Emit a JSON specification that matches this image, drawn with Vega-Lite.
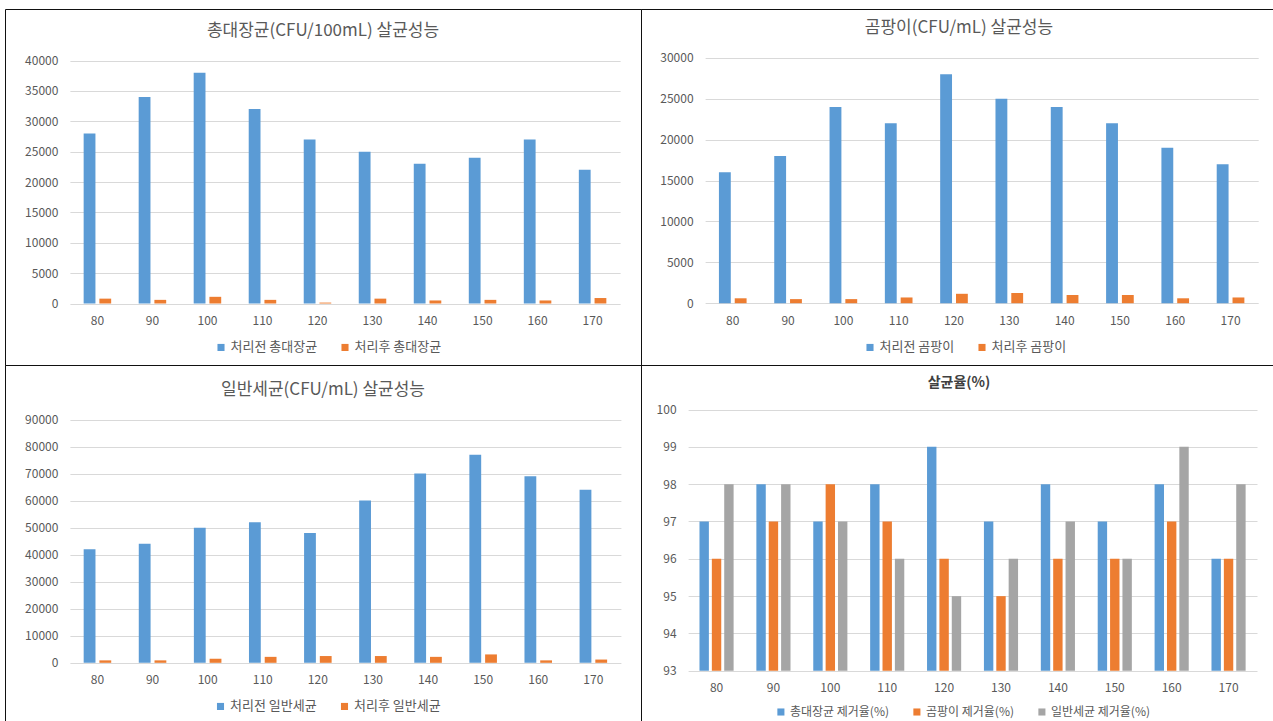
{
  "$schema": "https://vega.github.io/schema/vega-lite/v6.json",
  "padding": {"left": 4, "top": 8, "right": 0, "bottom": 0},
  "background": "white",
  "spacing": 0,
  "bounds": "flush",
  "columns": 2,
  "datasets": {
    "coliform": [
      {"t": 80, "series": "처리전 총대장균", "value": 28000},
      {"t": 90, "series": "처리전 총대장균", "value": 34000},
      {"t": 100, "series": "처리전 총대장균", "value": 38000},
      {"t": 110, "series": "처리전 총대장균", "value": 32000},
      {"t": 120, "series": "처리전 총대장균", "value": 27000},
      {"t": 130, "series": "처리전 총대장균", "value": 25000},
      {"t": 140, "series": "처리전 총대장균", "value": 23000},
      {"t": 150, "series": "처리전 총대장균", "value": 24000},
      {"t": 160, "series": "처리전 총대장균", "value": 27000},
      {"t": 170, "series": "처리전 총대장균", "value": 22000},
      {"t": 80, "series": "처리후 총대장균", "value": 800},
      {"t": 90, "series": "처리후 총대장균", "value": 600},
      {"t": 100, "series": "처리후 총대장균", "value": 1100},
      {"t": 110, "series": "처리후 총대장균", "value": 600},
      {"t": 120, "series": "처리후 총대장균", "value": 150},
      {"t": 130, "series": "처리후 총대장균", "value": 800},
      {"t": 140, "series": "처리후 총대장균", "value": 500},
      {"t": 150, "series": "처리후 총대장균", "value": 600},
      {"t": 160, "series": "처리후 총대장균", "value": 500},
      {"t": 170, "series": "처리후 총대장균", "value": 900}
    ],
    "mold": [
      {"t": 80, "series": "처리전 곰팡이", "value": 16000},
      {"t": 90, "series": "처리전 곰팡이", "value": 18000},
      {"t": 100, "series": "처리전 곰팡이", "value": 24000},
      {"t": 110, "series": "처리전 곰팡이", "value": 22000},
      {"t": 120, "series": "처리전 곰팡이", "value": 28000},
      {"t": 130, "series": "처리전 곰팡이", "value": 25000},
      {"t": 140, "series": "처리전 곰팡이", "value": 24000},
      {"t": 150, "series": "처리전 곰팡이", "value": 22000},
      {"t": 160, "series": "처리전 곰팡이", "value": 19000},
      {"t": 170, "series": "처리전 곰팡이", "value": 17000},
      {"t": 80, "series": "처리후 곰팡이", "value": 600},
      {"t": 90, "series": "처리후 곰팡이", "value": 500},
      {"t": 100, "series": "처리후 곰팡이", "value": 500},
      {"t": 110, "series": "처리후 곰팡이", "value": 700},
      {"t": 120, "series": "처리후 곰팡이", "value": 1150},
      {"t": 130, "series": "처리후 곰팡이", "value": 1250},
      {"t": 140, "series": "처리후 곰팡이", "value": 1000},
      {"t": 150, "series": "처리후 곰팡이", "value": 1000},
      {"t": 160, "series": "처리후 곰팡이", "value": 600},
      {"t": 170, "series": "처리후 곰팡이", "value": 700}
    ],
    "bacteria": [
      {"t": 80, "series": "처리전 일반세균", "value": 42000},
      {"t": 90, "series": "처리전 일반세균", "value": 44000},
      {"t": 100, "series": "처리전 일반세균", "value": 50000},
      {"t": 110, "series": "처리전 일반세균", "value": 52000},
      {"t": 120, "series": "처리전 일반세균", "value": 48000},
      {"t": 130, "series": "처리전 일반세균", "value": 60000},
      {"t": 140, "series": "처리전 일반세균", "value": 70000},
      {"t": 150, "series": "처리전 일반세균", "value": 77000},
      {"t": 160, "series": "처리전 일반세균", "value": 69000},
      {"t": 170, "series": "처리전 일반세균", "value": 64000},
      {"t": 80, "series": "처리후 일반세균", "value": 900},
      {"t": 90, "series": "처리후 일반세균", "value": 900},
      {"t": 100, "series": "처리후 일반세균", "value": 1500},
      {"t": 110, "series": "처리후 일반세균", "value": 2200},
      {"t": 120, "series": "처리후 일반세균", "value": 2500},
      {"t": 130, "series": "처리후 일반세균", "value": 2500},
      {"t": 140, "series": "처리후 일반세균", "value": 2200},
      {"t": 150, "series": "처리후 일반세균", "value": 3100},
      {"t": 160, "series": "처리후 일반세균", "value": 900},
      {"t": 170, "series": "처리후 일반세균", "value": 1200}
    ],
    "rate": [
      {"t": 80, "series": "총대장균 제거율(%)", "value": 97},
      {"t": 90, "series": "총대장균 제거율(%)", "value": 98},
      {"t": 100, "series": "총대장균 제거율(%)", "value": 97},
      {"t": 110, "series": "총대장균 제거율(%)", "value": 98},
      {"t": 120, "series": "총대장균 제거율(%)", "value": 99},
      {"t": 130, "series": "총대장균 제거율(%)", "value": 97},
      {"t": 140, "series": "총대장균 제거율(%)", "value": 98},
      {"t": 150, "series": "총대장균 제거율(%)", "value": 97},
      {"t": 160, "series": "총대장균 제거율(%)", "value": 98},
      {"t": 170, "series": "총대장균 제거율(%)", "value": 96},
      {"t": 80, "series": "곰팡이 제거율(%)", "value": 96},
      {"t": 90, "series": "곰팡이 제거율(%)", "value": 97},
      {"t": 100, "series": "곰팡이 제거율(%)", "value": 98},
      {"t": 110, "series": "곰팡이 제거율(%)", "value": 97},
      {"t": 120, "series": "곰팡이 제거율(%)", "value": 96},
      {"t": 130, "series": "곰팡이 제거율(%)", "value": 95},
      {"t": 140, "series": "곰팡이 제거율(%)", "value": 96},
      {"t": 150, "series": "곰팡이 제거율(%)", "value": 96},
      {"t": 160, "series": "곰팡이 제거율(%)", "value": 97},
      {"t": 170, "series": "곰팡이 제거율(%)", "value": 96},
      {"t": 80, "series": "일반세균 제거율(%)", "value": 98},
      {"t": 90, "series": "일반세균 제거율(%)", "value": 98},
      {"t": 100, "series": "일반세균 제거율(%)", "value": 97},
      {"t": 110, "series": "일반세균 제거율(%)", "value": 96},
      {"t": 120, "series": "일반세균 제거율(%)", "value": 95},
      {"t": 130, "series": "일반세균 제거율(%)", "value": 96},
      {"t": 140, "series": "일반세균 제거율(%)", "value": 97},
      {"t": 150, "series": "일반세균 제거율(%)", "value": 96},
      {"t": 160, "series": "일반세균 제거율(%)", "value": 99},
      {"t": 170, "series": "일반세균 제거율(%)", "value": 98}
    ]
  },
  "resolve": {"scale": {"color": "independent", "xOffset": "independent", "x": "independent", "y": "independent"}, "legend": {"color": "independent"}},
  "concat": [
    {
      "width": 636,
      "height": 356,
      "data": {"name": "coliform"},
      "title": {"text": "총대장균(CFU/100mL) 살균성능", "offset": -31.4},
      "mark": {"type": "bar"},
      "encoding": {
        "x": {"field": "t", "type": "ordinal", "title": null,
          "scale": {"range": [64.9, 615.1], "paddingInner": 0.5, "paddingOuter": 0.25},
          "axis": {"offset": -61.5, "labelAngle": 0}},
        "xOffset": {"field": "series", "type": "nominal", "sort": ["처리전 총대장균", "처리후 총대장균"], "scale": {"paddingInner": 0.25, "paddingOuter": 0}},
        "y": {"field": "value", "type": "quantitative", "title": null,
          "scale": {"domain": [0, 40000], "range": [294.5, 51.5], "nice": false},
          "axis": {"offset": -64.9, "values": [0, 5000, 10000, 15000, 20000, 25000, 30000, 35000, 40000], "format": "d"}},
        "color": {"field": "series", "type": "nominal", "title": null,
          "scale": {"domain": ["처리전 총대장균", "처리후 총대장균"], "range": ["#5B9BD5", "#ED7D31"]},
          "legend": {"orient": "none", "direction": "horizontal", "legendX": 209.5, "legendY": 331.7}}
      }
    },
    {
      "width": 636,
      "height": 356,
      "data": {"name": "mold"},
      "title": {"text": "곰팡이(CFU/mL) 살균성능", "offset": -27.7},
      "mark": {"type": "bar"},
      "encoding": {
        "x": {"field": "t", "type": "ordinal", "title": null,
          "scale": {"range": [64.1, 617.2], "paddingInner": 0.5, "paddingOuter": 0.25},
          "axis": {"offset": -61.8, "labelAngle": 0}},
        "xOffset": {"field": "series", "type": "nominal", "sort": ["처리전 곰팡이", "처리후 곰팡이"], "scale": {"paddingInner": 0.25, "paddingOuter": 0}},
        "y": {"field": "value", "type": "quantitative", "title": null,
          "scale": {"domain": [0, 30000], "range": [294.2, 48.8], "nice": false},
          "axis": {"offset": -64.1, "values": [0, 5000, 10000, 15000, 20000, 25000, 30000], "format": "d"}},
        "color": {"field": "series", "type": "nominal", "title": null,
          "scale": {"domain": ["처리전 곰팡이", "처리후 곰팡이"], "range": ["#5B9BD5", "#ED7D31"]},
          "legend": {"orient": "none", "direction": "horizontal", "legendX": 222.5, "legendY": 331.7}}
      }
    },
    {
      "width": 636,
      "height": 360,
      "data": {"name": "bacteria"},
      "title": {"text": "일반세균(CFU/mL) 살균성능", "offset": -33.7},
      "mark": {"type": "bar"},
      "encoding": {
        "x": {"field": "t", "type": "ordinal", "title": null,
          "scale": {"range": [64.9, 615.9], "paddingInner": 0.5, "paddingOuter": 0.25},
          "axis": {"offset": -62.2, "labelAngle": 0}},
        "xOffset": {"field": "series", "type": "nominal", "sort": ["처리전 일반세균", "처리후 일반세균"], "scale": {"paddingInner": 0.25, "paddingOuter": 0}},
        "y": {"field": "value", "type": "quantitative", "title": null,
          "scale": {"domain": [0, 90000], "range": [297.8, 54.5], "nice": false},
          "axis": {"offset": -64.9, "values": [0, 10000, 20000, 30000, 40000, 50000, 60000, 70000, 80000, 90000], "format": "d"}},
        "color": {"field": "series", "type": "nominal", "title": null,
          "scale": {"domain": ["처리전 일반세균", "처리후 일반세균"], "range": ["#5B9BD5", "#ED7D31"]},
          "legend": {"orient": "none", "direction": "horizontal", "legendX": 209, "legendY": 334.7}}
      }
    },
    {
      "width": 636,
      "height": 360,
      "data": {"name": "rate"},
      "title": {"text": "살균율(%)", "offset": -24.8, "fontWeight": "bold", "fontSize": 14, "color": "#404040"},
      "mark": {"type": "bar"},
      "encoding": {
        "x": {"field": "t", "type": "ordinal", "title": null,
          "scale": {"range": [47.1, 616], "paddingInner": 0.4, "paddingOuter": 0.2},
          "axis": {"offset": -54.2, "labelAngle": 0}},
        "xOffset": {"field": "series", "type": "nominal", "sort": ["총대장균 제거율(%)", "곰팡이 제거율(%)", "일반세균 제거율(%)"], "scale": {"paddingInner": 0.24, "paddingOuter": 0}},
        "y": {"field": "value", "type": "quantitative", "title": null,
          "scale": {"domain": [93, 100], "range": [305.8, 44.5], "zero": false, "nice": false},
          "axis": {"offset": -47.1, "values": [93, 94, 95, 96, 97, 98, 99, 100], "format": "d"}},
        "y2": {"datum": 93},
        "color": {"field": "series", "type": "nominal", "title": null,
          "scale": {"domain": ["총대장균 제거율(%)", "곰팡이 제거율(%)", "일반세균 제거율(%)"], "range": ["#5B9BD5", "#ED7D31", "#A5A5A5"]},
          "legend": {"orient": "none", "direction": "horizontal", "legendX": 133.9, "legendY": 341, "labelFontSize": 12}}
      }
    }
  ],
  "config": {
    "font": "Noto Sans CJK KR",
    "view": {"stroke": "#111111", "strokeWidth": 1},
    "axis": {"labelColor": "#595959", "labelFontSize": 12, "gridColor": "#D9D9D9", "gridWidth": 1, "domain": false, "ticks": false, "labelPadding": 12},
    "axisX": {"grid": false, "labelPadding": 12},
    "axisY": {"grid": true},
    "legend": {"labelColor": "#595959", "labelFontSize": 13, "symbolType": "square", "symbolSize": 50, "symbolStrokeWidth": 0, "labelOffset": 3, "columnPadding": 21, "padding": 0},
    "title": {"color": "#595959", "fontSize": 17, "fontWeight": "normal", "baseline": "middle", "frame": "group", "anchor": "middle"}
  }
}
